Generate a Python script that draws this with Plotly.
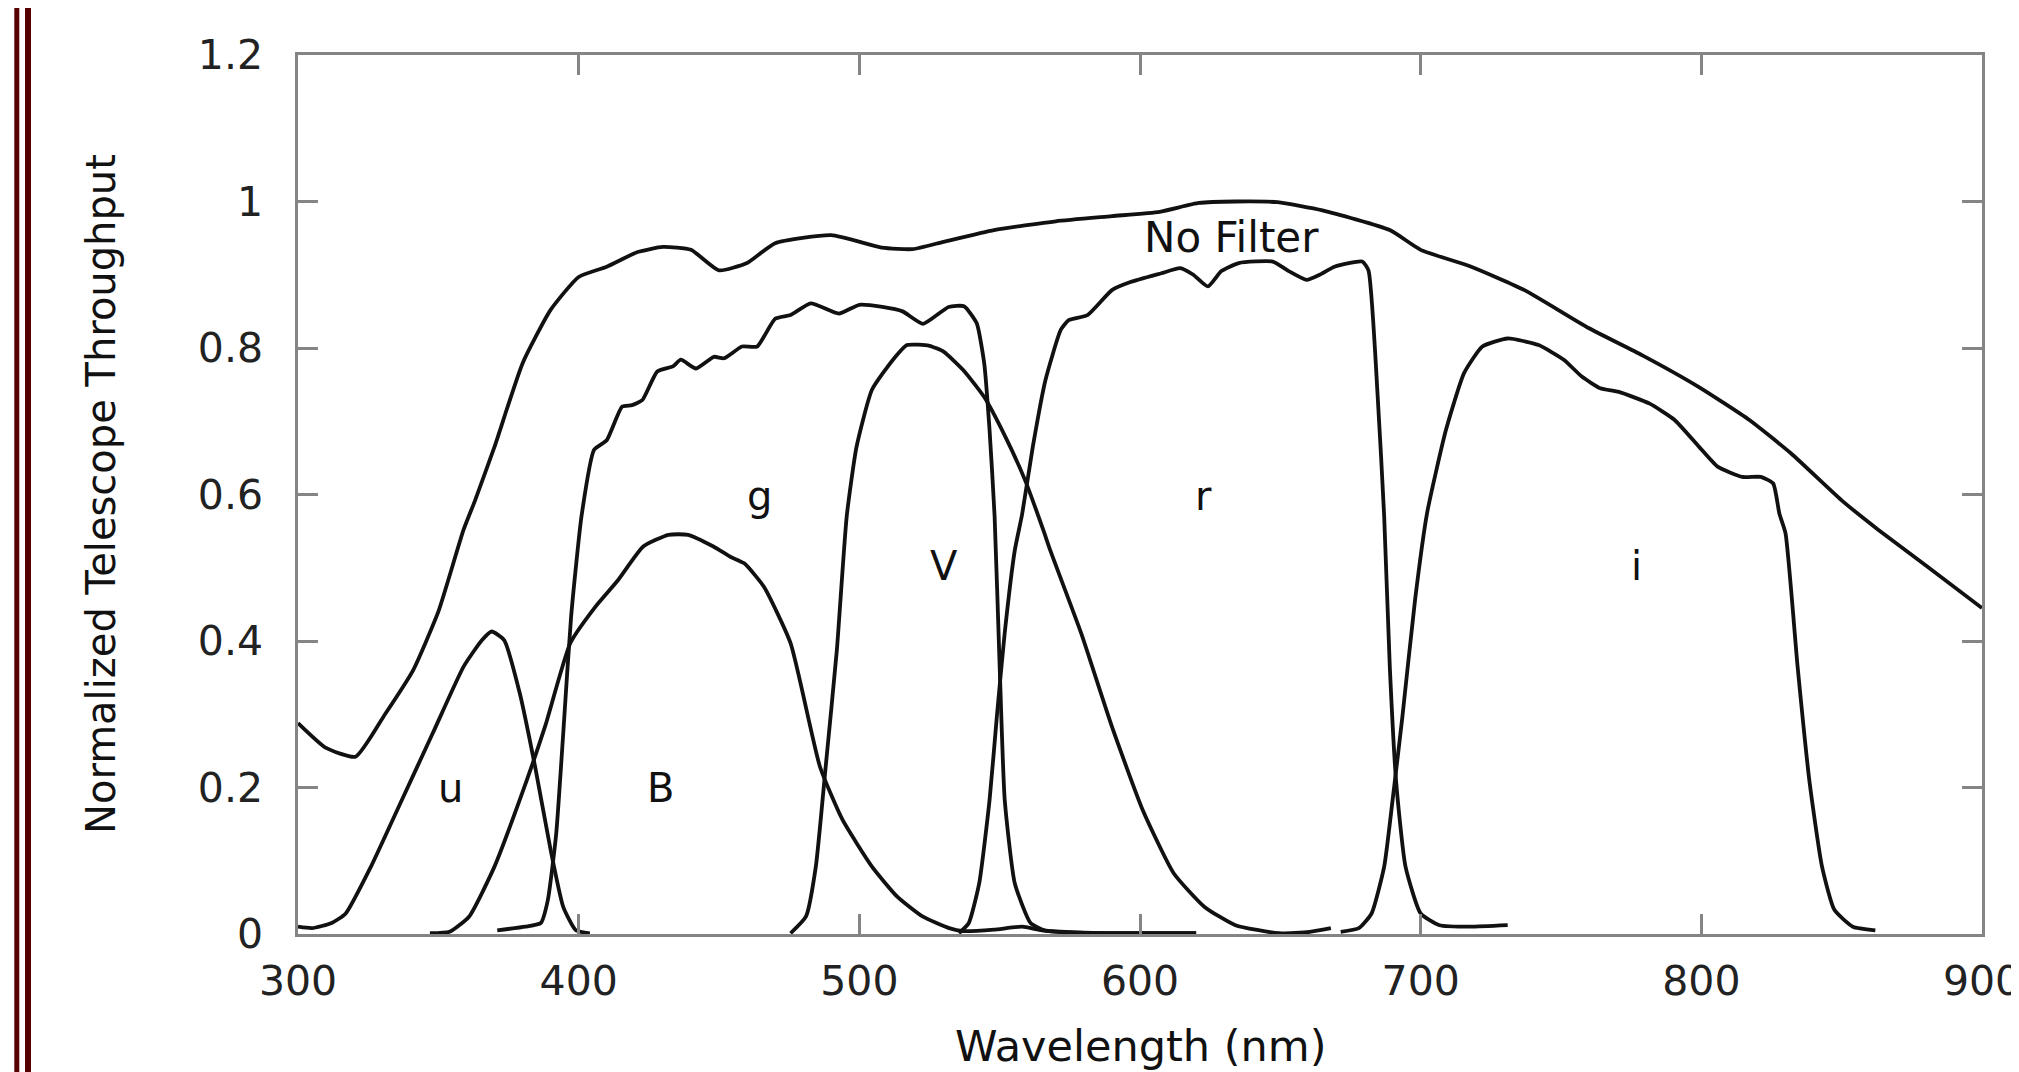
import plotly.graph_objects as go

# ---------------- data ----------------
nofilter_wl = [300, 310, 320.5, 331, 341, 350, 359, 363, 370, 380, 390, 400, 410, 421, 430, 440,
               450, 460, 470, 490, 508, 519, 530, 548, 570, 590, 607, 621, 634, 649, 665, 689,
               700, 718, 737, 760, 779, 799, 817, 832, 850, 863, 880, 900]
nofilter_val = [0.288, 0.254, 0.242, 0.300, 0.360, 0.440, 0.552, 0.591, 0.665, 0.779, 0.852, 0.897,
                0.911, 0.931, 0.938, 0.934, 0.906, 0.916, 0.943, 0.954, 0.937, 0.935, 0.945, 0.961,
                0.973, 0.980, 0.986, 0.998, 1.000, 0.999, 0.988, 0.961, 0.934, 0.911, 0.879, 0.827,
                0.790, 0.747, 0.702, 0.656, 0.592, 0.552, 0.503, 0.445]

u_wl = [300, 305, 312, 317, 326, 337, 348, 359, 365.5, 369, 373.5, 379, 384.5, 390, 394.5, 399, 404]
u_val = [0.010, 0.008, 0.015, 0.028, 0.092, 0.183, 0.274, 0.365, 0.401, 0.413, 0.401, 0.329, 0.228,
         0.115, 0.037, 0.005, 0.001]

B_wl = [347, 354, 361, 370, 379, 388, 397, 406, 414, 423, 432, 439, 448, 454, 459, 466, 475.5, 486,
        494, 504.5, 513.5, 522.5, 532, 537, 548, 558, 565, 575, 600, 620]
B_val = [0.001, 0.003, 0.024, 0.092, 0.183, 0.283, 0.397, 0.447, 0.483, 0.529, 0.545, 0.545, 0.529,
         0.515, 0.506, 0.474, 0.397, 0.228, 0.156, 0.092, 0.051, 0.024, 0.008, 0.004, 0.006, 0.010,
         0.005, 0.002, 0.001, 0.001]

g_wl = [371, 381, 386.5, 389, 392, 394.5, 397.3, 401, 405.5, 410, 415.5, 419, 422.7, 428, 433.6, 436.4,
        441.8, 448.2, 451.8, 458.2, 463.6, 470, 475.5, 482.7, 492.7, 500, 508.2, 515.4, 522.7, 531.8,
        537.3, 541.8, 544.5, 546.4, 548.2, 550, 551.8, 555.4, 561, 566, 580, 600, 620]
g_val = [0.005, 0.010, 0.015, 0.046, 0.137, 0.274, 0.433, 0.570, 0.661, 0.674, 0.720, 0.722, 0.729,
         0.768, 0.775, 0.784, 0.772, 0.788, 0.786, 0.802, 0.802, 0.840, 0.845, 0.861, 0.847, 0.859,
         0.856, 0.850, 0.833, 0.856, 0.857, 0.834, 0.779, 0.688, 0.570, 0.365, 0.183, 0.069, 0.015,
         0.005, 0.002, 0.001, 0.001]

V_wl = [475.5, 481, 484.5, 488, 492, 495.5, 499, 504.5, 512, 517, 525, 530, 537, 544.5, 552, 559,
        565.5, 568, 579, 590, 601, 612, 623, 634, 649.5, 660.5, 668]
V_val = [0.001, 0.024, 0.092, 0.228, 0.388, 0.570, 0.665, 0.743, 0.784, 0.804, 0.803, 0.795, 0.770,
         0.733, 0.679, 0.620, 0.552, 0.524, 0.411, 0.283, 0.169, 0.083, 0.037, 0.012, 0.001, 0.003,
         0.008]

r_wl = [535.5, 539, 542.7, 546.4, 549, 551.8, 555.4, 558, 561.8, 566.3, 571.8, 574.6, 581.3, 590,
        596.6, 607.6, 614.3, 619, 624.2, 629, 635.2, 647.3, 653, 659.4, 664, 669.3, 679.2, 681.4,
        684.7, 687, 689, 691.3, 694.6, 700, 706.7, 717.7, 731]
r_val = [0.001, 0.015, 0.069, 0.183, 0.297, 0.411, 0.524, 0.573, 0.665, 0.756, 0.825, 0.838, 0.845,
         0.879, 0.890, 0.902, 0.909, 0.900, 0.884, 0.905, 0.916, 0.918, 0.905, 0.893, 0.900, 0.911,
         0.918, 0.906, 0.733, 0.570, 0.365, 0.206, 0.092, 0.028, 0.012, 0.010, 0.012]

i_wl = [671.5, 678, 682.5, 687, 690, 693.5, 698, 702.3, 709, 715.5, 722, 731, 742, 751, 757.4, 764,
        770.6, 781.6, 790.4, 799.2, 805.8, 814.6, 821.2, 825.6, 827.8, 830, 834.3, 838.6, 843, 847.4,
        854, 862]
i_val = [0.003, 0.008, 0.028, 0.092, 0.183, 0.297, 0.456, 0.575, 0.688, 0.766, 0.802, 0.813, 0.804,
         0.784, 0.761, 0.745, 0.740, 0.724, 0.702, 0.665, 0.638, 0.624, 0.624, 0.615, 0.574, 0.547,
         0.365, 0.206, 0.092, 0.033, 0.010, 0.005]

label_text = ["u", "B", "g", "V", "r", "i", "No Filter"]
label_x = [354.5, 429.3, 464.6, 530.2, 622.8, 777.0, 632.7]
label_y = [0.199, 0.199, 0.598, 0.502, 0.598, 0.502, 0.951]

x_tickvals = [300, 400, 500, 600, 700, 800, 900]
x_ticktext = ["300", "400", "500", "600", "700", "800", "900"]
y_tickvals = [0, 0.2, 0.4, 0.6, 0.8, 1.0, 1.2]
y_ticktext = ["0", "0.2", "0.4", "0.6", "0.8", "1", "1.2"]

x_title = "Wavelength (nm)"
y_title = "Normalized Telescope Throughput"

# ---------------- figure ----------------
OFF = 8                      # default page (body) margin of the html file
W, H = 2019 - OFF, 1072 - OFF
ML, MT = 298 - OFF, 55 - OFF
PW, PH = 1684, 879
MR = W - ML - PW
MB = H - MT - PH
FONT = "DejaVu Sans"
LINE = "#111111"
AXIS = "#858585"

def page_x(px):              # page pixel -> paper fraction
    return (px - OFF - ML) / PW

def page_y(py):
    return (MT + PH - (py - OFF)) / PH

fig = go.Figure()
for wl, val in [(nofilter_wl, nofilter_val), (u_wl, u_val), (B_wl, B_val), (g_wl, g_val),
                (V_wl, V_val), (r_wl, r_val), (i_wl, i_val)]:
    fig.add_trace(go.Scatter(x=wl, y=val, mode="lines",
                             line=dict(color=LINE, width=3.8, shape="spline", smoothing=0.5),
                             hoverinfo="skip"))

for t, x, y in zip(label_text, label_x, label_y):
    fig.add_annotation(x=x, y=y, xref="x", yref="y", text=t, showarrow=False,
                       xanchor="center", yanchor="middle",
                       font=dict(family=FONT, size=42 if t == "No Filter" else 40,
                                 color="#111111"))

fig.add_annotation(x=page_x(1140), y=page_y(1046), xref="paper", yref="paper", text=x_title,
                   showarrow=False, xanchor="center", yanchor="middle",
                   font=dict(family=FONT, size=43, color="#111111"))
fig.add_annotation(x=page_x(101), y=page_y(494), xref="paper", yref="paper",
                   text=y_title, textangle=-90, showarrow=False, xanchor="center",
                   yanchor="middle", font=dict(family=FONT, size=40, color="#111111"))

# decorative maroon double border on the left edge
for x0, x1 in [(14.3, 19.3), (25.0, 31.0)]:
    fig.add_shape(type="rect", xref="paper", yref="paper",
                  x0=page_x(x0), x1=page_x(x1),
                  y0=page_y(1080), y1=page_y(0),
                  line=dict(width=0), fillcolor="#560000", layer="above")

axis_common = dict(showline=True, linecolor=AXIS, linewidth=2.5, mirror="ticks",
                   ticks="inside", ticklen=20, tickwidth=2.5, tickcolor=AXIS,
                   showgrid=False, zeroline=False, automargin=False,
                   ticklabeloverflow="allow",
                   tickfont=dict(family=FONT, size=41, color="#222222"))

fig.update_xaxes(range=[300, 900], tickvals=x_tickvals, ticktext=x_ticktext,
                 ticklabelstandoff=9, **axis_common)
fig.update_yaxes(range=[0, 1.2], tickvals=y_tickvals, ticktext=y_ticktext,
                 ticklabelstandoff=24, **axis_common)

fig.update_layout(width=W, height=H, margin=dict(l=ML, r=MR, t=MT, b=MB),
                  paper_bgcolor="white", plot_bgcolor="white", showlegend=False,
                  font=dict(family=FONT))

fig.write_html("out.html")
